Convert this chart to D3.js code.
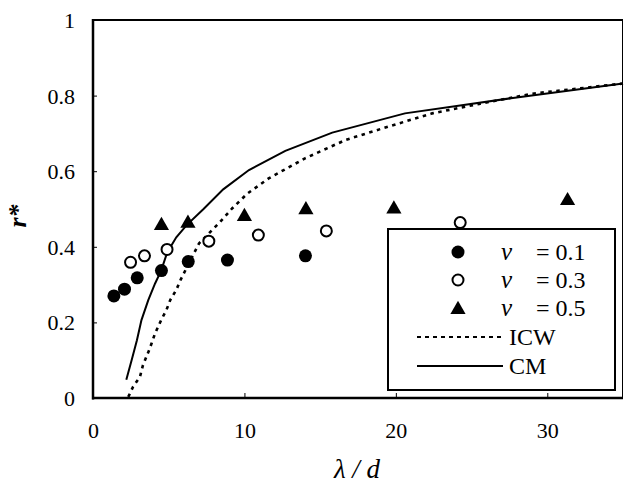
<!DOCTYPE html>
<html>
<head>
<meta charset="utf-8">
<script src="https://cdn.jsdelivr.net/npm/d3@7"></script>
<style>
  html, body { margin: 0; padding: 0; background: #fff; }
  svg { display: block; }
  text { font-family: "Liberation Serif", "Times New Roman", serif; fill: #000; }
</style>
</head>
<body>
<svg id="chart" width="624" height="492"></svg>
<script>
// ---- data ----
const nu01 = [[1.38,0.27],[2.08,0.288],[2.92,0.318],[4.52,0.337],[6.29,0.361],[8.88,0.365],[14.03,0.376]];
const nu03 = [[2.48,0.359],[3.40,0.376],[4.89,0.393],[7.65,0.415],[10.92,0.431],[15.41,0.442],[24.25,0.464]];
const nu05 = [[4.52,0.46],[6.27,0.466],[10.0,0.484],[14.06,0.502],[19.87,0.504],[31.34,0.526]];
const cmLine = [[2.2,0.048],[2.55,0.1],[2.9,0.153],[3.2,0.206],[3.65,0.259],[4.1,0.303],[4.5,0.337],[4.9,0.385],[5.5,0.425],[6.2,0.458],[7.3,0.5],[8.6,0.552],[10.3,0.603],[12.7,0.654],[15.8,0.702],[20.6,0.753],[27.6,0.793],[35,0.832]];
const icwLine = [[2.33,0.003],[2.65,0.03],[3.1,0.056],[3.3,0.087],[3.75,0.131],[4.1,0.171],[4.5,0.206],[4.85,0.233],[5.1,0.259],[5.5,0.286],[5.8,0.314],[7.0,0.409],[8.4,0.466],[9.2,0.502],[10.2,0.541],[11.6,0.581],[14.0,0.634],[16.7,0.683],[19.5,0.718],[22.4,0.753],[25.5,0.778],[29,0.805],[35,0.832]];
const xTicks = [0,10,20,30];
const yTicks = [0,0.2,0.4,0.6,0.8,1];
const legendLabels = ["= 0.1","= 0.3","= 0.5","ICW","CM"];

// ---- layout ----
const svg = d3.select("#chart");
const L = 93, R = 623, T = 20, B = 398;
const x = d3.scaleLinear().domain([0,35]).range([L,R]);
const y = d3.scaleLinear().domain([0,1]).range([B,T]);
const serif = '"Liberation Serif", "Times New Roman", serif';

// axes
const yAxis = d3.axisLeft(y).tickValues(yTicks).tickSize(-4).tickPadding(18)
  .tickFormat(d => d === 0 || d === 1 ? d3.format("d")(d) : d3.format(".1f")(d));
const gy = svg.append("g").attr("transform", `translate(${L},0)`).call(yAxis).attr("font-family", serif);
gy.select(".domain").remove();
gy.selectAll("line").attr("stroke","#000").attr("stroke-width",1);
gy.selectAll("text").style("font-size","22px").style("font-family",serif).attr("dy","0.34em");

const xAxis = d3.axisBottom(x).tickValues(xTicks).tickSize(-5).tickPadding(24).tickFormat(d3.format("d"));
const gx = svg.append("g").attr("transform", `translate(0,${B})`).call(xAxis).attr("font-family", serif);
gx.select(".domain").remove();
gx.selectAll("line").attr("stroke","#000").attr("stroke-width",1);
gx.selectAll("text").style("font-size","22px").style("font-family",serif);

// frame
svg.append("line").attr("x1",L).attr("x2",R).attr("y1",T).attr("y2",T).attr("stroke","#000").attr("stroke-width",2);
svg.append("line").attr("x1",R-0.5).attr("x2",R-0.5).attr("y1",T).attr("y2",B).attr("stroke","#000").attr("stroke-width",1);
svg.append("line").attr("x1",L).attr("x2",L).attr("y1",T-1).attr("y2",B+1.5).attr("stroke","#000").attr("stroke-width",2.5);
svg.append("line").attr("x1",L-1).attr("x2",R).attr("y1",B).attr("y2",B).attr("stroke","#000").attr("stroke-width",2.5);

// lines
const line = d3.line().x(d => x(d[0])).y(d => y(d[1]));
svg.append("path").datum(icwLine).attr("d",line).attr("fill","none")
  .attr("stroke","#000").attr("stroke-width",2.6).attr("stroke-dasharray","3.5,4.5");
svg.append("path").datum(cmLine).attr("d",line).attr("fill","none")
  .attr("stroke","#000").attr("stroke-width",2);

// markers
const tri = d3.symbol().type(d3.symbolTriangle).size(100);
svg.append("g").selectAll("circle").data(nu01).join("circle")
  .attr("cx",d=>x(d[0])).attr("cy",d=>y(d[1])).attr("r",6.5).attr("fill","#000");
svg.append("g").selectAll("circle").data(nu03).join("circle")
  .attr("cx",d=>x(d[0])).attr("cy",d=>y(d[1])).attr("r",5.5).attr("fill","#fff").attr("stroke","#000").attr("stroke-width",2);
svg.append("g").selectAll("path").data(nu05).join("path")
  .attr("d",tri).attr("transform",d=>`translate(${x(d[0])},${y(d[1])+1.5})`).attr("fill","#000");

// legend
const lg = svg.append("g");
lg.append("rect").attr("x",388).attr("y",229).attr("width",227).attr("height",161)
  .attr("fill","#fff").attr("stroke","#000").attr("stroke-width",2);
const rowY = [252,280,308,337,366];
lg.append("circle").attr("cx",458).attr("cy",rowY[0]).attr("r",6.5).attr("fill","#000");
lg.append("circle").attr("cx",458).attr("cy",rowY[1]).attr("r",5.5).attr("fill","#fff").attr("stroke","#000").attr("stroke-width",2);
lg.append("path").attr("d",tri).attr("transform",`translate(458,${rowY[2]+1.5})`).attr("fill","#000");
lg.append("line").attr("x1",417).attr("x2",503).attr("y1",rowY[3]).attr("y2",rowY[3])
  .attr("stroke","#000").attr("stroke-width",2).attr("stroke-dasharray","4,4");
lg.append("line").attr("x1",417).attr("x2",503).attr("y1",rowY[4]).attr("y2",rowY[4])
  .attr("stroke","#000").attr("stroke-width",2);
for (let i = 0; i < 3; i++) {
  lg.append("text").attr("x",501).attr("y",rowY[i]).attr("dy","0.33em")
    .style("font-size","25px").style("font-style","italic").text("ν");
  lg.append("text").attr("x",536).attr("y",rowY[i]).attr("dy","0.33em")
    .style("font-size","24px").text(legendLabels[i]);
}
for (let i = 3; i < 5; i++) {
  lg.append("text").attr("x",509).attr("y",rowY[i]).attr("dy","0.33em")
    .style("font-size","24px").text(legendLabels[i]);
}

// axis titles
svg.append("text").attr("x",357).attr("y",478).attr("text-anchor","middle")
  .style("font-size","27px").style("font-style","italic").text("λ / d");
svg.append("text").attr("transform","translate(26,216) rotate(-90)").attr("text-anchor","middle")
  .style("font-size","26px").style("font-style","italic").style("font-weight","bold").text("r*");
</script>
</body>
</html>
